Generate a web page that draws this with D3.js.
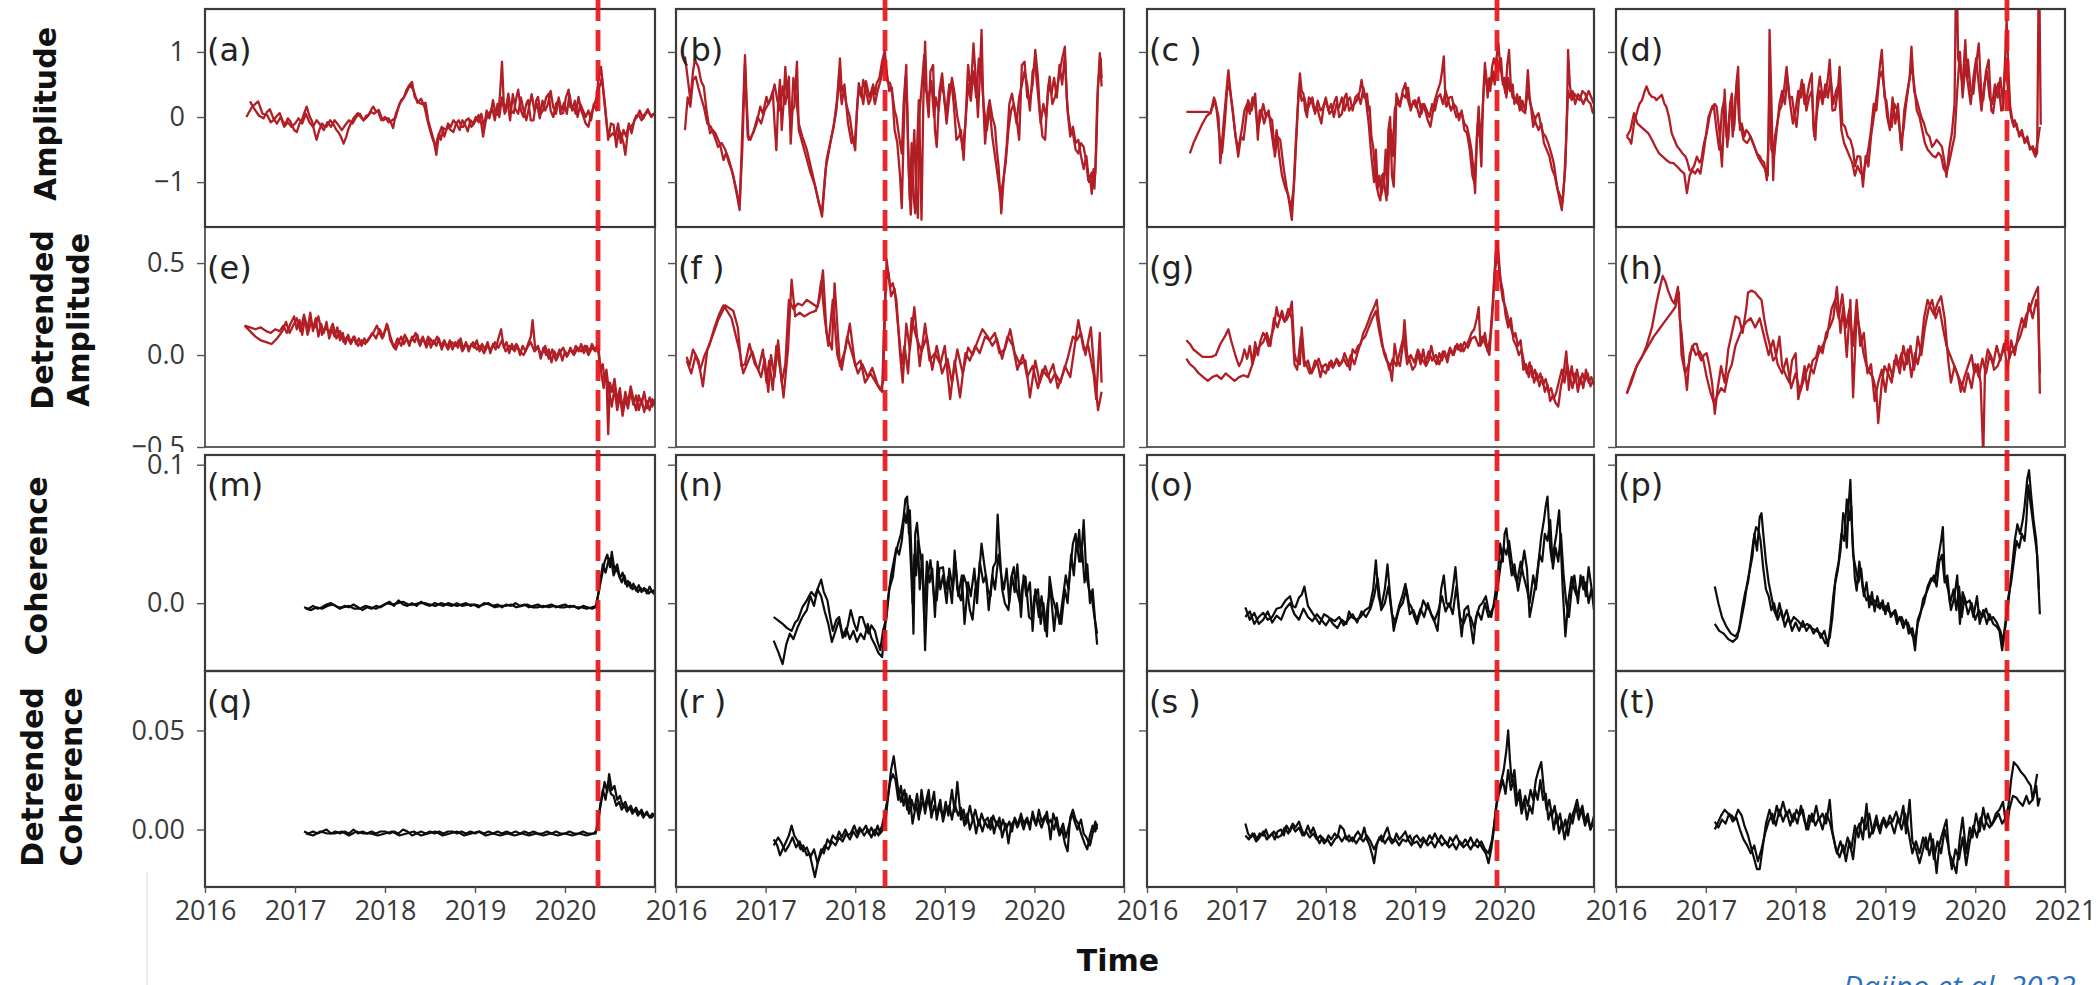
<!DOCTYPE html>
<html>
<head>
<meta charset="utf-8">
<script src="https://cdn.jsdelivr.net/npm/d3@7"></script>
<style>
  body { margin: 0; background: #fff; }
  svg { display: block; }
</style>
</head>
<body>
<svg id="chart" width="2100" height="985"></svg>
<script>
// time is in hundredths of a year since 2016-01-01
const years = ["2016", "2017", "2018", "2019", "2020", "2021"];
const rowTitles = [["Amplitude"], ["Detrended", "Amplitude"], ["Coherence"], ["Detrended", "Coherence"]];
const letters = [["(a)", "(b)", "(c )", "(d)"], ["(e)", "(f )", "(g)", "(h)"], ["(m)", "(n)", "(o)", "(p)"], ["(q)", "(r )", "(s )", "(t)"]];
const yTicks = [[1, 0, -1], [0.5, 0, -0.5], [0.1, 0], [0.05, 0]];
const yTickLabels = [["1", "0", "\u22121"], ["0.5", "0.0", "\u22120.5"], ["0.1", "0.0"], ["0.05", "0.00"]];
const eventTimes = [436.7, 233.3, 391.5, 435.4];

// (a) amplitude
const aA = [[46,0],[52,.15],[59,.24],[64,.05],[69,.03],[73,-.08],[76,-.05],[80,.02],[83,.06],[86,-.05],[89,-.12],[92,-.02],[95,-.07],[99,-.2],[102,-.23],[105,-.1],[107,-.07],[110,.05],[113,.16],[116,.02],[119,-.07],[122,-.25],[124,-.35],[127,-.2],[130,-.1],[133,-.15],[135,-.15],[139,-.05],[143,-.12],[146,-.2],[148,-.23],[151,-.3],[154,-.41],[157,-.3],[159,-.2],[162,-.1],[165,-.02],[168,.03],[170,.06],[173,0],[176,-.05],[179,.02],[182,.03],[185,.12],[187,.16],[190,.08],[193,.11],[196,0],[198,-.05],[201,-.02],[204,-.02],[207,-.1],[209,-.17],[212,.05],[215,.15],[218,.26],[221,.3],[224,.42],[226,.47],[230,.54],[233,.31],[236,.25],[239,.21],[242,.2],[245,.22],[248,-.05],[250,-.15],[254,-.35],[257,-.58],[260,-.25],[262,-.35],[265,-.17],[268,-.2],[270,-.15],[273,-.2],[276,-.23],[279,-.1],[282,-.05],[285,-.15],[287,-.15],[290,-.05],[293,-.02],[296,-.15],[298,-.12],[301,-.05],[304,.03],[307,-.1],[309,-.3],[312,-.05],[315,.05],[318,.1],[320,.26],[323,.05],[326,.03],[328,.4],[330,.85],[332,.2],[334,.08],[337,.36],[340,.1],[343,.06],[346,.3],[348,.42],[351,.1],[354,0],[357,.2],[359,.26],[362,-.05],[365,-.05],[368,.25],[370,.31],[373,.05],[376,.11],[379,.3],[382,.36],[384,.1],[387,0],[390,.2],[393,.26],[395,.05],[398,.06],[401,.3],[404,.42],[406,.15],[409,.16],[412,.05],[415,.31],[418,.1],[420,.03],[423,-.1],[426,-.15],[429,.05],[432,.16],[435,.3],[437,.57],[440,.77],[442,.5],[445,.11],[448,-.35],[451,-.1],[454,-.12],[457,-.46],[460,-.2],[462,-.25],[465,-.4],[467,-.58],[470,-.2],[473,-.15],[476,-.1],[479,.02],[482,.03],[485,-.05],[487,-.02],[490,.06],[493,.08],[496,0],[498,.04],[500,.03]];
const aB = [[50,.24],[55,.12],[60,.02],[65,-.02],[69,.08],[72,.12],[76,-.02],[80,-.1],[84,0],[88,-.15],[92,-.08],[96,-.15],[100,-.1],[104,-.02],[108,-.1],[112,.05],[116,-.08],[120,-.15],[124,-.05],[128,-.12],[132,-.2],[136,-.08],[140,-.15],[144,-.05],[148,-.12],[152,-.2],[156,-.12],[160,-.05],[164,-.1],[168,0],[172,.05],[176,-.05],[180,0],[184,.08],[188,.05],[192,.1],[196,-.05],[200,0],[204,-.08],[208,-.05],[212,0],[216,.2],[220,.28],[224,.38],[228,.5],[232,.4],[236,.22],[240,.28],[244,.15],[248,-.1],[252,-.3],[256,-.45],[259,-.3],[263,-.15],[266,-.3],[270,-.1],[273,-.15],[276,-.05],[280,-.12],[283,-.2],[286,-.05],[289,-.12],[292,-.22],[295,-.05],[298,-.1],[301,0],[304,-.08],[307,.05],[310,-.15],[313,.1],[316,-.02],[319,.15],[322,-.05],[325,.2],[327,0],[330,.3],[333,.05],[336,.25],[339,-.05],[342,.35],[345,.12],[348,.05],[351,.3],[354,.1],[357,-.05],[360,.15],[363,.35],[366,.1],[369,.2],[372,-.02],[375,.25],[378,.1],[381,.2],[384,.4],[387,.15],[390,.05],[393,.3],[396,.1],[399,.22],[402,.05],[405,.35],[408,.1],[411,.25],[414,0],[417,.2],[420,.1],[423,0],[426,.1],[429,-.05],[432,.2],[435,.1],[438,.45],[441,.6],[444,.2],[447,-.2],[450,-.3],[453,-.25],[456,-.3],[459,-.1],[462,-.4],[465,-.2],[468,-.3],[471,-.1],[474,-.25],[477,-.05],[480,0],[483,.1],[486,0],[489,.05],[492,.12],[495,.02],[500,.06]];

// (b)
const bA = [[10,.93],[13,.6],[16,.26],[19,.7],[21,.88],[25,.77],[28,.55],[31,.47],[34,.11],[38,-.25],[41,-.2],[44,-.25],[47,-.35],[49,-.41],[53,-.66],[56,-.55],[58,-.61],[61,-.75],[64,-.92],[68,-1.2],[71,-1.43],[74,-.2],[77,.95],[79,.2],[81,-.35],[84,-.3],[86,-.25],[90,-.1],[94,.16],[97,.05],[101,.31],[103,.2],[105,.26],[108,.4],[110,-.1],[112,-.51],[114,.2],[116,.57],[118,-.2],[120,.2],[122,.77],[124,.3],[126,.62],[128,-.41],[130,.1],[132,.16],[135,.85],[137,-.2],[140,-.35],[145,-.6],[150,-.85],[155,-1.05],[159,-1.3],[163,-1.53],[166,-1],[168,-.66],[172,-.4],[176,-.15],[180,.3],[183,.9],[185,.4],[187,.47],[190,.2],[194,0],[197,-.3],[200,-.51],[202,.1],[204,.52],[207,.3],[209,.57],[212,.4],[215,.2],[217,.26],[220,.5],[222,.35],[224,.52],[227,.6],[230,.85],[233,1.03],[236,.55],[239,.52],[242,.3],[244,.1],[246,0],[249,-.3],[252,-.56],[254,.2],[257,.8],[259,-.5],[261,-1.28],[263,-.4],[265,-1.2],[267,-1.48],[269,-.5],[271,.26],[273,-.9],[274,-1.58],[276,.2],[278,1.16],[280,.3],[282,0],[284,.7],[287,.8],[289,-.2],[291,-.46],[294,.4],[297,.67],[300,.2],[302,.11],[305,.5],[308,.47],[310,.2],[313,-.35],[316,-.3],[318,-.2],[321,-.66],[324,.2],[326,.8],[329,.4],[332,1.13],[335,.5],[337,0],[339,.6],[341,1.34],[343,.2],[345,-.41],[348,.1],[350,.26],[353,0],[356,-.15],[358,-.5],[360,-.76],[363,-1.48],[366,-.9],[369,-.46],[372,.2],[375,.36],[378,.1],[380,0],[383,-.35],[386,.8],[389,.85],[392,.3],[395,.26],[398,.5],[401,1.03],[404,.6],[406,.11],[409,-.3],[412,-.35],[415,.4],[417,.62],[420,.2],[423,.31],[426,.5],[428,.67],[431,.9],[434,1.08],[436,.3],[438,0],[441,-.25],[443,-.25],[446,-.5],[449,-.56],[452,-.4],[455,-.46],[458,-.7],[460,-.97],[462,-.9],[464,-1.18],[466,-.8],[468,-.87],[470,.2],[473,.98],[475,.47]];
const bB = [[10,-.2],[13,.3],[16,.16],[19,.57],[22,.62],[25,.45],[28,.3],[31,.16],[35,-.1],[39,-.15],[43,-.3],[47,-.46],[51,-.4],[55,-.5],[59,-.7],[63,-.85],[67,-1.1],[71,-1.35],[74,-.5],[77,.8],[80,-.3],[83,-.35],[87,-.2],[91,0],[95,-.1],[99,.1],[103,.2],[107,.31],[110,.5],[113,.26],[116,.1],[119,.47],[122,.2],[125,.5],[128,-.2],[131,.6],[134,.3],[137,-.1],[141,-.3],[146,-.5],[151,-.8],[156,-1.1],[160,-1.35],[163,-1.45],[167,-.8],[171,-.5],[175,-.2],[179,.1],[182,.6],[185,.2],[188,.5],[192,-.1],[196,-.4],[200,-.3],[203,.3],[206,.45],[209,.2],[212,.55],[216,.3],[219,.45],[222,.2],[225,.4],[229,.6],[232,.9],[235,.7],[238,.4],[241,.45],[244,-.2],[247,-.4],[250,-.9],[252,-1.4],[254,-.3],[256,.6],[258,.2],[260,-.9],[262,-1.5],[264,-.8],[266,-.2],[268,-1.2],[270,-1.55],[272,.1],[275,.6],[277,.95],[279,.4],[282,.3],[285,.55],[288,0],[290,.3],[293,.1],[296,.5],[299,.35],[302,-.1],[305,.3],[308,.6],[311,.35],[314,0],[317,-.2],[320,-.5],[323,-.1],[326,.5],[329,.25],[332,.7],[335,.3],[338,.9],[341,.6],[344,.1],[347,-.2],[350,.15],[353,-.3],[356,-.6],[359,-.9],[362,-1.2],[365,-1],[368,-.7],[371,-.2],[374,.1],[377,.2],[380,-.1],[383,.3],[386,.5],[389,.7],[392,.5],[395,.1],[398,.7],[401,.8],[404,.35],[407,-.1],[410,.2],[413,0],[416,.5],[419,.35],[422,.6],[425,.3],[428,.8],[431,.5],[434,.95],[437,.1],[440,-.3],[443,-.15],[446,-.4],[449,-.35],[452,-.6],[455,-.8],[458,-.6],[461,-1],[464,-.85],[467,-1.1],[469,-.5],[471,.5],[474,.9],[475,.6]];

// (c)
const cA = [[44,.08],[48,.08],[57,.08],[67,.08],[71,.06],[76,.26],[80,0],[82,-.71],[85,-.2],[87,.11],[91,.72],[94,.3],[97,-.05],[102,-.61],[105,-.3],[108,-.35],[111,0],[113,.26],[117,.1],[121,.36],[124,-.35],[126,.1],[128,.11],[131,-.1],[134,.06],[137,0],[140,-.05],[143,-.61],[146,-.3],[149,-.35],[153,-.8],[156,-1.07],[159,-1.3],[162,-1.58],[165,-.9],[167,-.35],[169,.2],[171,.67],[173,.4],[175,.36],[177,.1],[179,0],[181,.3],[184,.26],[187,.1],[190,.16],[193,0],[195,-.1],[198,.2],[201,.21],[204,.05],[207,.1],[210,.25],[212,.31],[215,0],[218,.05],[221,.3],[223,.36],[226,.1],[229,.16],[232,.2],[235,.26],[238,.4],[240,.57],[243,.3],[246,.36],[248,.1],[249,.16],[251,-.3],[253,-.46],[255,-.8],[257,-1.07],[259,-1.2],[261,-1.28],[263,-.9],[264,-.87],[266,-1.1],[268,-1.28],[270,-.2],[272,0],[274,-.9],[276,-1.07],[278,-.3],[279,.36],[281,.2],[283,.16],[286,.4],[289,.52],[291,.3],[294,.16],[297,.2],[300,.26],[303,.1],[305,0],[308,.2],[311,.11],[314,-.05],[317,-.15],[320,.1],[322,.26],[325,.4],[328,.52],[330,.7],[332,.93],[334,.2],[335,.16],[338,.3],[341,.31],[344,.1],[346,0],[349,.05],[352,.06],[355,-.1],[358,-.15],[361,-.35],[363,-.51],[365,-.8],[367,-1.17],[369,-.3],[371,.16],[373,-.5],[374,-.76],[376,.3],[378,.83],[380,.5],[382,.57],[384,.4],[386,.77],[388,.9],[390,.8],[393,1.13],[395,.8],[397,.62],[399,.5],[401,.36],[403,.8],[405,1.03],[407,.47],[409,.3],[412,.26],[415,.2],[417,.31],[420,.1],[423,.06],[426,.72],[428,.3],[430,.1],[432,-.15],[435,0],[438,.06],[441,-.15],[443,-.25],[446,-.3],[449,-.41],[452,-.55],[455,-.71],[458,-1],[460,-1.17],[462,-1.3],[464,-1.43],[466,-1.1],[468,-.76],[470,.2],[471,1.03],[473,.5],[475,.26],[478,.36],[481,.3],[484,.26],[487,.4],[490,.36],[493,.25],[496,.21],[499,.05]];
const cB = [[48,-.56],[52,-.4],[57,-.25],[62,-.1],[67,.02],[71,.06],[75,.3],[78,.1],[81,-.3],[84,-.55],[87,-.1],[90,.5],[93,.4],[96,.1],[99,-.3],[102,-.5],[106,-.2],[109,.1],[112,.2],[115,.05],[118,.3],[121,.2],[124,-.2],[127,0],[130,.2],[133,0],[136,.1],[139,-.2],[142,-.5],[145,-.2],[148,-.6],[151,-.9],[155,-1.1],[158,-1.2],[161,-1.4],[164,-1.1],[166,-.5],[168,0],[170,.5],[173,.25],[176,.3],[179,.1],[182,.2],[185,.3],[188,.05],[191,.25],[194,.1],[197,.15],[200,.3],[203,.1],[206,.2],[209,0],[212,.2],[215,.15],[218,.3],[221,.1],[224,.25],[227,.3],[230,.1],[233,.3],[236,.35],[239,.2],[242,.45],[245,.25],[248,-.1],[251,-.6],[254,-1],[256,-.5],[258,-1.1],[260,-.9],[262,-1.2],[265,-1],[267,-.5],[269,-1.2],[271,-.4],[273,-.2],[275,-.6],[277,.1],[280,.3],[283,.2],[286,.35],[289,.3],[292,.45],[295,.1],[298,.25],[301,.15],[304,.3],[307,.05],[310,.2],[313,.1],[316,0],[319,.2],[322,.1],[325,.3],[328,.35],[331,.2],[334,.4],[337,.25],[340,.1],[343,.2],[346,.15],[349,-.05],[352,.1],[355,-.2],[358,-.25],[361,-.5],[364,-.9],[366,-1],[368,-.6],[370,-.1],[372,-.3],[375,0],[377,.5],[379,.7],[381,.3],[383,.6],[385,.5],[387,.7],[389,.5],[391,.9],[393,.7],[396,.9],[398,.5],[400,.6],[402,.3],[404,.6],[406,.4],[409,.5],[411,.2],[414,.35],[417,.1],[420,.25],[423,.1],[426,.4],[429,.2],[432,.05],[435,-.1],[438,-.2],[441,-.1],[444,-.4],[447,-.5],[450,-.6],[453,-.8],[456,-.9],[459,-1.1],[462,-1.2],[465,-1.3],[467,-.9],[469,-.3],[471,.4],[473,.3],[476,.4],[479,.2],[482,.35],[485,.3],[488,.2],[491,.3],[494,.4],[497,.3],[500,.2]];

// (d)
const dA = [[12,-.3],[15,-.35],[17,-.41],[20,-.1],[23,.06],[26,.2],[29,.26],[32,.4],[34,.47],[37,.36],[40,.31],[43,.3],[45,.26],[48,.3],[51,.34],[54,.2],[56,.16],[59,0],[62,-.25],[65,-.35],[68,-.45],[71,-.5],[74,-.56],[77,-.6],[79,-.66],[82,-.82],[84,-.82],[87,-.75],[90,-.61],[93,-.7],[95,-.66],[98,-.4],[101,-.25],[104,0],[107,.16],[110,.2],[112,.16],[115,-.2],[118,-.76],[120,-.1],[121,.42],[123,-.3],[125,-.35],[127,.2],[129,.36],[131,-.2],[132,-.1],[134,.5],[136,.77],[138,-.2],[140,-.1],[143,-.3],[145,-.2],[148,-.25],[151,-.35],[154,-.45],[157,-.56],[160,-.6],[162,-.66],[165,-.7],[168,-.97],[170,-.3],[171,1.34],[173,.3],[175,-.97],[177,-.3],[179,-.15],[182,.1],[184,.16],[187,.4],[190,.77],[193,.3],[196,.31],[199,0],[201,-.15],[204,.3],[207,.57],[210,.2],[212,.26],[215,.5],[218,.67],[220,-.2],[222,-.35],[224,.3],[227,.62],[230,.3],[233,.31],[236,.6],[238,.88],[241,.1],[244,.11],[247,.4],[249,.77],[252,-.1],[255,-.15],[258,-.3],[261,-.35],[264,-.5],[266,-.76],[269,-.6],[272,-.61],[275,-1.07],[278,-.6],[281,-.76],[284,-.3],[287,0],[290,.3],[292,.52],[294,.8],[296,1.03],[299,.3],[301,.26],[304,-.1],[307,-.15],[310,.2],[313,.11],[316,-.2],[318,-.51],[321,.1],[324,.36],[327,.6],[329,1.08],[332,.4],[335,.26],[338,.1],[340,0],[343,-.1],[346,-.25],[349,-.3],[352,-.46],[355,-.4],[357,-.35],[360,-.4],[363,-.46],[366,-.7],[368,-.92],[371,-.5],[374,-.25],[377,.2],[379,2.6],[381,.9],[383,.77],[386,.5],[389,1.18],[391,.6],[392,.88],[395,.4],[398,.36],[401,.8],[404,1.13],[407,.3],[409,.26],[412,.7],[415,.88],[418,.1],[420,.06],[423,.4],[426,.52],[429,.1],[431,.11],[433,.8],[435,1.49],[437,.7],[439,.16],[442,-.1],[444,-.05],[447,-.2],[450,-.25],[453,-.3],[456,-.35],[459,-.4],[461,-.46],[464,-.5],[467,-.61],[469,-.55],[471,2.6],[473,-.12]];
const dB = [[12,-.3],[16,-.2],[20,.06],[24,-.1],[28,-.15],[32,-.2],[36,-.25],[40,-.35],[44,-.46],[48,-.56],[52,-.61],[56,-.66],[60,-.7],[64,-.71],[68,-.76],[72,-.82],[76,-.87],[79,-1.17],[82,-.9],[85,-.82],[88,-.87],[91,-.8],[94,-.87],[97,-.6],[100,-.3],[103,0],[106,.11],[109,.16],[112,-.2],[115,-.5],[118,.1],[121,.3],[124,-.46],[126,0],[128,.2],[130,-.3],[133,.3],[135,.5],[137,-.05],[139,-.15],[142,-.35],[146,-.4],[150,-.3],[154,-.45],[158,-.61],[162,-.71],[166,-.8],[169,-.9],[171,.6],[173,-.5],[176,-.6],[179,-.2],[182,.2],[185,.4],[188,.2],[191,.6],[194,.2],[197,-.1],[200,.1],[203,.4],[206,.3],[209,.5],[212,.1],[215,.3],[218,.4],[221,-.3],[224,.1],[227,.4],[230,.2],[233,.5],[236,.3],[239,.6],[242,.2],[245,.4],[248,.5],[251,-.2],[254,-.4],[257,-.5],[260,-.6],[263,-.7],[266,-.9],[269,-.75],[272,-.85],[275,-.9],[278,-.7],[281,-.5],[284,-.2],[287,.2],[290,.1],[293,.6],[296,.7],[299,.4],[302,0],[305,-.2],[308,.3],[311,-.1],[314,.2],[317,-.4],[320,-.2],[323,.2],[326,.5],[329,.8],[332,.5],[335,.1],[338,0],[341,-.2],[344,-.4],[347,-.5],[350,-.55],[353,-.6],[356,-.62],[359,-.55],[362,-.6],[365,-.8],[368,-.85],[371,-.7],[374,-.5],[377,-.3],[380,.4],[383,1.0],[386,.3],[389,.8],[392,.5],[395,.2],[398,.6],[401,.9],[404,.5],[407,.1],[410,.5],[413,.7],[416,.3],[419,.2],[422,.5],[425,.3],[428,.6],[431,.2],[434,.9],[437,.3],[440,0],[443,-.15],[446,-.1],[449,-.3],[452,-.2],[455,-.4],[458,-.3],[461,-.5],[464,-.45],[467,-.55],[470,-.35],[472,-.15]];

// (e) detrended amplitude
const eA = [[44,.16],[50,.15],[56,.14],[62,.15],[68,.13],[73,.12],[78,.14],[83,.13],[87,.16],[91,.12],[95,.17],[99,.21],[102,.14],[105,.19],[108,.11],[111,.2],[114,.14],[117,.23],[120,.13],[123,.2],[126,.1],[129,.17],[132,.12],[135,.18],[138,.09],[141,.14],[144,.1],[147,.15],[150,.08],[153,.12],[156,.06],[159,.11],[162,.07],[165,.1],[168,.06],[171,.09],[174,.05],[177,.09],[180,.07],[184,.1],[188,.13],[191,.16],[194,.12],[197,.09],[200,.13],[203,.16],[206,.08],[209,.05],[212,.03],[215,.07],[218,.1],[221,.06],[224,.09],[227,.05],[230,.1],[233,.07],[236,.11],[239,.05],[242,.09],[245,.06],[248,.1],[251,.04],[254,.08],[257,.05],[260,.09],[263,.03],[266,.07],[269,.04],[272,.08],[275,.03],[278,.07],[281,.04],[284,.09],[287,.03],[290,.07],[293,.02],[296,.06],[299,.04],[302,.08],[305,.02],[308,.06],[311,.03],[314,.07],[317,.01],[320,.06],[323,.03],[326,.09],[329,.14],[332,.04],[335,.07],[338,.01],[341,.06],[344,.02],[347,.05],[350,0],[353,.05],[356,.02],[359,.06],[362,.1],[364,.19],[367,.03],[370,.05],[373,-.02],[376,.04],[379,0],[382,.03],[385,-.04],[388,.02],[391,-.01],[394,.03],[397,-.03],[400,.02],[403,0],[406,.04],[409,.01],[412,.05],[415,.02],[418,.06],[421,.01],[424,.05],[427,.02],[430,.06],[433,.03],[436,.05],[438,-.02],[440,-.08],[442,-.05],[444,-.14],[446,-.1],[448,-.43],[450,-.15],[452,-.2],[455,-.13],[458,-.25],[461,-.18],[464,-.3],[467,-.2],[470,-.26],[473,-.17],[476,-.24],[479,-.3],[482,-.22],[485,-.27],[488,-.2],[491,-.29],[494,-.23],[497,-.28],[500,-.24]];
const eB = [[44,.16],[50,.13],[56,.1],[62,.08],[68,.07],[74,.06],[80,.09],[86,.13],[90,.18],[94,.12],[98,.16],[102,.2],[106,.13],[110,.22],[114,.11],[118,.18],[122,.15],[126,.21],[130,.11],[134,.15],[138,.12],[142,.17],[146,.09],[150,.13],[154,.07],[158,.1],[162,.06],[166,.1],[170,.05],[174,.08],[178,.06],[182,.09],[186,.12],[190,.09],[194,.14],[198,.1],[202,.17],[206,.1],[210,.04],[214,.09],[218,.05],[222,.11],[226,.07],[230,.08],[234,.12],[238,.06],[242,.1],[246,.04],[250,.09],[254,.06],[258,.1],[262,.05],[266,.08],[270,.03],[274,.07],[278,.05],[282,.08],[286,.02],[290,.06],[294,.04],[298,.07],[302,.03],[306,.05],[310,.01],[314,.05],[318,.03],[322,.07],[326,.04],[330,.08],[334,.02],[338,.05],[342,.03],[346,.06],[350,.02],[354,0],[358,.04],[362,.07],[366,.02],[370,.04],[374,0],[378,.05],[382,-.02],[386,.03],[390,-.03],[394,.01],[398,.04],[402,-.01],[406,.03],[410,0],[414,.04],[418,.02],[422,.05],[426,0],[430,.04],[434,.02],[437,.05],[439,-.05],[441,-.12],[443,-.18],[446,-.08],[449,-.2],[452,-.28],[455,-.18],[458,-.3],[461,-.22],[464,-.33],[467,-.24],[470,-.29],[473,-.2],[476,-.27],[479,-.22],[482,-.3],[485,-.24],[488,-.31],[491,-.25],[494,-.3],[497,-.24],[500,-.27]];

// (f)
const fA = [[12,-.01],[15,-.06],[19,.03],[25,-.03],[30,-.17],[35,.03],[42,.12],[47,.19],[52,.24],[55,.27],[58,.26],[64,.24],[69,.15],[73,-.06],[77,-.05],[82,.06],[88,-.05],[92,-.08],[97,.03],[101,-.15],[104,-.03],[108,-.19],[112,.05],[117,-.1],[120,-.23],[125,.03],[129,.41],[133,.21],[138,.23],[143,.21],[150,.23],[156,.24],[160,.3],[164,.46],[168,.12],[174,.03],[177,.39],[183,-.06],[189,.03],[194,.17],[200,-.06],[206,-.03],[211,-.15],[217,-.1],[222,-.14],[228,-.19],[231,-.15],[235,.52],[239,.37],[242,.39],[246,.3],[250,.01],[253,-.15],[257,.17],[261,.03],[266,.26],[272,-.06],[278,.17],[283,-.03],[289,.01],[295,-.05],[300,.05],[306,-.24],[311,-.03],[317,-.23],[323,.01],[328,-.03],[334,.05],[339,.01],[345,.1],[350,.08],[356,.12],[361,.01],[367,.03],[373,.14],[378,.01],[384,-.05],[390,-.03],[395,-.23],[401,-.03],[406,-.15],[412,-.06],[418,-.15],[423,-.1],[429,-.15],[434,-.06],[440,-.12],[445,.05],[449,.19],[455,.03],[460,.05],[466,-.1],[469,-.24],[473,.12],[475,-.15]];
const fB = [[12,-.03],[17,-.1],[22,0],[27,-.08],[32,0],[37,.05],[43,.15],[48,.22],[53,.27],[57,.24],[62,.2],[67,.1],[71,.02],[75,-.1],[80,-.04],[85,.02],[90,-.06],[95,-.12],[99,-.02],[103,-.2],[106,0],[110,-.12],[114,.08],[118,-.15],[122,-.05],[126,.3],[131,.25],[136,.28],[141,.27],[146,.3],[152,.28],[158,.26],[162,.4],[166,.2],[170,.05],[175,.3],[180,0],[185,-.08],[191,.1],[197,0],[203,-.1],[208,-.05],[214,-.12],[219,-.07],[225,-.16],[230,-.2],[234,.4],[237,.45],[240,.32],[244,.36],[248,.15],[252,-.05],[255,.05],[259,-.1],[263,.2],[268,.1],[274,.02],[280,.1],[286,-.08],[291,.05],[297,-.1],[303,-.02],[308,-.15],[314,.03],[320,-.1],[326,.04],[331,0],[337,.08],[342,.14],[348,.1],[353,.05],[358,.09],[364,-.02],[370,.1],[376,.05],[381,-.08],[387,0],[392,-.12],[398,-.06],[404,-.18],[409,-.08],[415,-.12],[421,-.05],[426,-.18],[432,-.1],[437,-.02],[443,.1],[447,.08],[452,.12],[457,0],[463,.15],[467,-.1],[471,-.3],[475,-.2]];

// (g)
const gA = [[44,.08],[48,.06],[52,.03],[57,.01],[62,-.01],[67,-.01],[72,-.01],[77,0],[82,.06],[87,.1],[91,.14],[94,.08],[97,.03],[100,-.02],[103,-.06],[106,-.03],[109,.03],[112,-.02],[115,.05],[118,-.05],[121,.07],[124,0],[127,.08],[130,.12],[133,.1],[136,.05],[139,.1],[142,.15],[145,.26],[147,.21],[149,.21],[151,.24],[153,.2],[156,.19],[159,.22],[162,.29],[165,.01],[167,-.03],[171,-.05],[173,.15],[176,-.03],[179,-.06],[182,-.1],[185,-.08],[188,-.03],[191,-.05],[194,-.12],[197,-.06],[200,-.05],[203,-.08],[206,-.03],[209,-.06],[212,-.03],[215,-.06],[218,-.04],[221,.01],[224,-.03],[227,-.08],[230,.03],[233,.01],[236,.05],[239,.06],[242,.12],[245,.15],[248,.19],[251,.23],[254,.26],[257,.3],[259,.2],[262,.1],[265,.01],[268,-.03],[271,-.05],[274,-.14],[277,.06],[280,-.03],[283,-.06],[286,.05],[288,.19],[291,0],[294,-.03],[297,-.08],[300,-.06],[303,.01],[306,-.05],[309,.03],[312,-.06],[315,-.03],[318,.05],[321,-.02],[324,-.05],[327,.01],[330,-.03],[333,.02],[336,-.04],[339,.03],[342,0],[345,.05],[348,.03],[351,.06],[354,.02],[357,.05],[360,.08],[363,.12],[366,.14],[369,.2],[371,.26],[373,.05],[376,.08],[378,.12],[381,.02],[384,.1],[387,.3],[390,.55],[392,.62],[394,.5],[396,.37],[398,.3],[401,.26],[404,.2],[407,.15],[410,.1],[412,.12],[415,.05],[418,.08],[421,-.08],[424,-.05],[427,-.12],[430,-.06],[433,-.15],[436,-.1],[439,-.17],[442,-.12],[445,-.2],[448,-.16],[451,-.25],[454,-.22],[457,-.26],[460,-.28],[463,-.17],[466,-.1],[469,.02],[472,-.19],[475,-.06],[478,-.15],[481,-.08],[484,-.16],[487,-.1],[490,-.14],[493,-.1],[496,-.17],[499,-.14]];
const gB = [[44,-.02],[48,-.05],[53,-.07],[58,-.1],[63,-.12],[68,-.14],[73,-.12],[78,-.11],[83,-.13],[88,-.1],[93,-.12],[98,-.14],[103,-.12],[108,-.11],[113,-.12],[118,-.05],[122,.02],[126,.05],[130,.07],[134,.12],[138,.05],[142,.2],[146,.15],[150,.22],[154,.18],[158,.25],[162,.2],[165,-.05],[168,-.08],[172,.1],[176,-.06],[180,-.03],[184,-.1],[188,-.06],[192,-.02],[196,-.08],[200,-.1],[204,-.04],[208,-.07],[212,-.02],[216,-.05],[220,-.02],[224,-.06],[228,0],[232,-.05],[236,.02],[240,.08],[244,.1],[248,.15],[252,.2],[256,.24],[259,.15],[263,.05],[267,0],[271,-.08],[275,-.02],[279,-.06],[283,.02],[287,.1],[291,-.05],[295,0],[299,-.04],[303,.03],[307,-.02],[311,-.05],[315,.02],[319,-.03],[323,0],[327,-.05],[331,.02],[335,-.02],[339,.04],[343,0],[347,.06],[351,.02],[355,.07],[359,.04],[363,.09],[367,.1],[371,.05],[375,.1],[379,.05],[383,0],[386,.2],[389,.45],[392,.55],[395,.42],[398,.35],[401,.22],[404,.15],[407,.2],[410,.08],[413,.05],[416,0],[419,.03],[422,-.05],[425,-.1],[428,-.04],[431,-.12],[434,-.08],[437,-.14],[440,-.1],[443,-.16],[446,-.13],[449,-.2],[452,-.18],[455,-.24],[458,-.2],[461,-.14],[464,-.08],[467,-.15],[470,-.05],[473,-.12],[476,-.18],[479,-.1],[482,-.2],[485,-.12],[488,-.18],[491,-.08],[494,-.15],[497,-.12],[500,-.16]];

// (h)
const hA = [[12,-.21],[17,-.15],[23,-.06],[29,-.01],[34,.05],[40,.15],[45,.28],[49,.37],[52,.43],[55,.4],[58,.35],[62,.3],[65,.28],[69,.37],[71,.2],[73,.12],[76,-.05],[79,-.19],[82,0],[84,.03],[87,.06],[90,.06],[93,-.01],[95,-.03],[98,0],[101,.01],[104,-.06],[107,-.15],[110,-.32],[113,-.19],[117,-.06],[121,-.15],[125,.03],[129,.12],[133,.21],[137,.2],[141,.12],[145,.25],[147,.34],[151,.35],[155,.34],[158,.32],[162,.3],[165,.2],[168,.12],[171,.06],[175,-.03],[178,-.01],[182,.1],[185,-.06],[190,-.12],[193,-.15],[196,-.03],[200,.01],[203,-.24],[207,-.15],[210,-.06],[213,-.19],[216,-.1],[219,-.03],[223,-.01],[226,.05],[230,.01],[234,.12],[238,.15],[242,.2],[246,.37],[250,.12],[253,.26],[257,-.01],[261,.3],[264,-.23],[268,.23],[272,.12],[276,0],[279,-.06],[283,-.1],[286,-.12],[290,-.2],[292,-.37],[296,-.15],[299,-.06],[303,-.1],[307,-.15],[310,-.03],[314,-.06],[318,.01],[321,-.08],[325,.03],[329,-.12],[333,.01],[336,-.05],[340,.05],[343,.2],[347,.3],[351,.25],[354,.22],[358,.28],[362,.32],[366,.2],[370,-.03],[373,-.15],[377,-.06],[381,-.12],[384,-.2],[388,-.12],[392,-.06],[396,0],[399,-.1],[403,-.05],[406,-.15],[409,-.55],[411,-.06],[414,.03],[418,-.01],[421,-.08],[425,-.06],[429,0],[432,.03],[435,.1],[438,-.02],[440,.01],[443,.03],[446,.06],[450,.1],[453,.15],[457,.22],[461,.25],[464,.3],[468,.35],[470,.37],[472,-.21]];
const hB = [[12,-.21],[18,-.12],[24,-.05],[30,0],[36,.05],[42,.1],[48,.14],[54,.18],[60,.22],[66,.26],[70,.34],[73,0],[77,-.1],[81,-.05],[85,.05],[89,0],[93,.02],[97,-.02],[101,-.12],[105,-.2],[109,-.26],[113,-.22],[117,-.18],[121,-.2],[125,-.1],[129,-.05],[133,.05],[137,.1],[141,.15],[145,.18],[150,.2],[155,.15],[160,.2],[165,.1],[170,0],[175,.08],[180,-.05],[185,-.1],[190,-.02],[195,-.18],[200,-.1],[205,-.2],[210,-.12],[215,-.05],[220,-.1],[225,0],[230,.05],[235,.1],[240,.25],[244,.3],[248,.2],[252,.33],[256,.15],[260,.25],[264,.05],[268,.3],[272,.05],[276,.12],[280,-.1],[284,-.05],[288,-.25],[292,-.15],[296,-.08],[300,-.2],[304,-.05],[308,-.12],[312,0],[316,-.1],[320,.05],[324,-.05],[328,.05],[332,-.08],[336,.1],[340,0],[344,.15],[348,.25],[352,.3],[356,.2],[360,.26],[364,.15],[368,.05],[372,0],[376,-.05],[380,-.1],[384,-.15],[388,-.2],[392,-.1],[396,-.18],[400,-.05],[404,-.12],[408,-.02],[412,-.1],[416,0],[420,-.05],[424,.05],[428,-.03],[432,.06],[436,-.08],[440,.08],[444,0],[448,.12],[452,.2],[456,.15],[460,.28],[464,.2],[468,.3],[470,.25],[472,-.1]];

// (m) coherence
const mA = [[110,-.003],[115,-.004],[120,-.002],[125,-.004],[130,-.003],[135,-.001],[140,0],[145,-.002],[150,-.004],[155,-.002],[160,-.003],[165,-.001],[170,-.003],[175,-.005],[180,-.003],[185,-.004],[190,-.002],[195,-.003],[200,-.001],[205,.001],[210,-.002],[215,.002],[220,-.001],[225,-.002],[230,0],[235,-.002],[240,.001],[245,-.001],[250,-.002],[255,0],[260,-.001],[265,-.002],[270,0],[275,-.001],[280,-.002],[285,-.001],[290,0],[295,-.002],[300,-.001],[305,-.002],[310,-.001],[315,0],[320,-.002],[325,-.001],[330,-.003],[335,-.001],[340,-.002],[345,0],[350,-.002],[355,-.001],[360,-.003],[365,-.002],[370,-.001],[375,-.003],[380,-.002],[385,-.001],[390,-.003],[395,-.002],[400,-.001],[405,-.003],[410,-.002],[415,-.004],[420,-.002],[425,-.003],[430,-.004],[434,-.003],[438,.01],[441,.02],[444,.03],[447,.035],[450,.026],[452,.037],[455,.024],[458,.028],[461,.018],[464,.022],[467,.014],[470,.016],[473,.011],[476,.014],[479,.009],[482,.013],[485,.008],[488,.011],[491,.007],[494,.012],[497,.008],[500,.01]];
const mB = [[112,-.004],[118,-.005],[124,-.003],[130,-.004],[136,-.002],[142,-.001],[148,-.003],[154,-.003],[160,-.002],[166,-.004],[172,-.004],[178,-.002],[184,-.003],[190,-.004],[196,-.002],[202,0],[208,-.001],[214,0],[220,.001],[226,-.001],[232,-.001],[238,0],[244,0],[250,-.001],[256,-.002],[262,0],[268,-.001],[274,-.002],[280,0],[286,-.002],[292,-.001],[298,-.001],[304,-.003],[310,0],[316,-.001],[322,-.003],[328,-.002],[334,-.002],[340,-.001],[346,-.003],[352,-.002],[358,-.001],[364,-.003],[370,-.003],[376,-.002],[382,-.003],[388,-.002],[394,-.003],[400,-.003],[406,-.002],[412,-.003],[418,-.003],[424,-.004],[430,-.003],[435,-.002],[439,.015],[442,.028],[445,.022],[448,.03],[451,.033],[454,.02],[457,.025],[460,.02],[463,.015],[466,.02],[469,.012],[472,.015],[475,.01],[478,.012],[481,.008],[484,.011],[487,.009],[490,.01],[493,.007],[496,.009],[500,.006]];

// (n)
const nA = [[109,-.01],[115,-.013],[119,-.015],[124,-.018],[129,-.02],[133,-.014],[136,-.012],[141,-.003],[146,.002],[151,.008],[155,.005],[159,.012],[162,.017],[165,.008],[169,.002],[172,-.01],[175,-.02],[179,-.012],[182,-.01],[185,-.02],[189,-.024],[192,-.015],[195,-.005],[199,-.015],[202,-.02],[205,-.01],[208,-.01],[212,-.018],[215,-.022],[218,-.016],[222,-.02],[225,-.028],[228,-.034],[231,-.02],[235,-.01],[238,.01],[242,.019],[245,.035],[248,.043],[251,.05],[254,.062],[256,.075],[258,.077],[260,.05],[261,.067],[263,.03],[265,-.022],[267,.05],[269,.058],[271,.043],[274,.03],[276,.01],[278,-.034],[281,.02],[284,.031],[288,.005],[291,.002],[294,.025],[298,.026],[301,.01],[304,.019],[308,0],[311,.038],[314,.01],[318,.002],[321,.02],[324,.014],[328,-.005],[331,-.012],[334,.01],[338,.019],[341,.043],[344,.028],[348,.01],[351,.005],[354,.026],[357,.03],[359,.064],[361,.04],[364,.01],[367,0],[371,-.005],[374,.018],[377,.026],[380,.01],[384,0],[387,.014],[390,.019],[394,-.01],[397,-.012],[400,.005],[404,.01],[407,-.015],[410,0],[414,-.024],[417,.019],[420,.005],[424,-.005],[427,-.01],[430,-.015],[434,.01],[437,0],[440,.025],[443,.043],[446,.05],[448,.038],[450,.053],[452,.03],[455,.06],[458,.02],[461,.01],[464,.005],[467,-.01],[470,-.022]];
const nB = [[109,-.027],[114,-.035],[119,-.044],[123,-.03],[127,-.022],[131,-.026],[136,-.017],[141,-.01],[146,-.005],[150,.005],[154,-.002],[158,.01],[162,.005],[166,-.006],[170,-.015],[174,-.028],[178,-.02],[182,-.012],[186,-.025],[190,-.018],[194,-.026],[198,-.02],[202,-.028],[206,-.022],[210,-.026],[214,-.015],[218,-.025],[222,-.03],[226,-.036],[230,-.039],[233,-.02],[236,0],[240,.02],[243,.03],[246,.04],[249,.035],[252,.045],[255,.065],[257,.058],[259,.07],[262,.03],[264,0],[266,.035],[268,.02],[270,.045],[272,.01],[275,.035],[277,-.01],[280,.03],[283,.015],[286,.025],[289,-.01],[292,.03],[295,.01],[298,.02],[302,0],[305,.025],[309,.01],[312,.03],[315,.005],[319,.02],[322,-.015],[326,.015],[329,.005],[333,.025],[336,0],[339,.03],[343,.015],[346,.02],[349,-.005],[353,.02],[356,.01],[360,.035],[363,.02],[366,.01],[369,.025],[372,0],[375,.02],[378,.008],[381,.028],[385,-.01],[388,.02],[391,.005],[395,.015],[398,-.02],[401,.01],[405,-.01],[408,.005],[412,-.02],[415,0],[418,.01],[422,-.02],[425,0],[428,-.015],[432,.005],[435,.02],[438,.01],[441,.035],[444,.02],[447,.045],[450,.03],[453,.04],[456,.015],[459,.028],[462,0],[465,.01],[468,-.015],[470,-.03]];

// (o)
const oA = [[110,-.01],[115,-.006],[120,-.015],[125,-.01],[130,-.007],[135,-.012],[140,-.01],[145,-.004],[150,-.003],[155,.002],[160,.005],[163,-.002],[166,-.003],[170,.004],[173,.006],[176,.012],[180,-.002],[183,-.005],[188,-.01],[193,-.015],[198,-.008],[203,-.01],[208,-.015],[213,-.018],[218,-.012],[223,-.015],[226,-.006],[229,-.01],[234,-.012],[239,-.01],[244,-.005],[249,-.003],[253,.01],[256,.031],[259,.005],[262,-.003],[266,.01],[269,.028],[272,.005],[276,-.02],[279,-.01],[282,-.002],[286,.006],[289,.014],[293,0],[296,-.003],[299,-.01],[302,-.015],[306,-.006],[309,.002],[312,-.002],[316,-.005],[319,-.01],[322,-.014],[325,-.02],[329,.01],[332,.02],[335,0],[339,-.003],[342,.01],[345,.026],[349,-.005],[352,-.024],[355,-.005],[359,-.002],[362,-.015],[365,-.029],[368,-.01],[372,-.002],[375,0],[379,.005],[382,-.005],[385,-.01],[388,0],[390,.009],[393,.025],[395,.043],[398,.03],[400,.05],[402,.054],[405,.035],[408,.02],[411,.028],[415,.009],[418,.02],[422,.038],[425,.025],[428,-.01],[431,0],[435,.015],[438,.03],[441,.048],[444,.06],[446,.07],[448,.077],[451,.04],[453,.03],[455,.038],[458,.05],[461,.067],[463,.04],[465,.01],[468,-.024],[471,0],[475,.019],[478,.01],[481,.005],[484,.012],[488,.019],[491,.005],[494,.026],[497,.012],[500,-.005]];
const oB = [[110,-.003],[115,-.012],[120,-.007],[125,-.015],[130,-.012],[135,-.006],[140,-.014],[145,-.009],[150,-.012],[155,-.004],[160,0],[165,-.008],[170,-.012],[175,-.004],[180,-.01],[185,-.013],[190,-.008],[195,-.012],[200,-.016],[205,-.011],[210,-.013],[215,-.01],[220,-.016],[225,-.012],[230,-.008],[235,-.014],[240,-.006],[245,-.01],[250,-.004],[254,.005],[258,.018],[262,-.005],[266,0],[270,.012],[274,-.008],[278,-.014],[282,-.004],[286,0],[290,.01],[294,-.008],[298,-.005],[302,-.012],[306,-.004],[310,-.01],[314,0],[318,-.008],[322,-.012],[326,-.005],[330,.005],[334,-.006],[338,0],[342,-.008],[346,.012],[350,-.01],[354,-.015],[358,-.008],[362,-.01],[366,-.018],[370,-.006],[374,-.012],[378,0],[382,-.01],[386,-.005],[390,0],[393,.015],[396,.03],[399,.04],[402,.035],[405,.045],[408,.03],[411,.02],[414,.015],[418,.03],[421,.02],[425,.01],[428,0],[432,.02],[435,.01],[439,.035],[442,.03],[445,.05],[448,.045],[451,.06],[454,.025],[457,.04],[460,.03],[463,.05],[466,.02],[469,0],[472,-.01],[475,.01],[478,.02],[482,0],[485,.02],[488,.01],[491,.015],[494,0],[497,.01],[500,0]];

// (p)
const pA = [[110,.012],[114,0],[118,-.01],[123,-.017],[128,-.022],[133,-.024],[137,-.02],[140,-.01],[143,0],[146,.014],[149,.024],[152,.034],[154,.05],[157,.038],[160,.062],[162,.065],[164,.05],[167,.03],[170,.015],[173,.005],[176,-.005],[179,-.01],[182,0],[186,-.012],[190,-.005],[194,-.015],[198,-.01],[203,-.013],[208,-.017],[213,-.015],[218,-.018],[223,-.02],[228,-.022],[233,-.029],[238,-.025],[241,-.01],[244,.014],[247,.024],[250,.038],[253,.065],[255,.06],[257,.04],[259,.07],[261,.089],[263,.05],[264,.04],[266,.018],[268,.009],[271,.03],[273,.02],[275,.01],[279,.002],[282,.005],[285,-.001],[288,.002],[292,-.003],[295,0],[298,-.005],[301,-.002],[304,-.006],[307,-.008],[311,-.005],[314,-.012],[318,-.01],[321,-.015],[325,-.014],[328,-.02],[331,-.025],[333,-.034],[336,-.012],[340,-.005],[343,0],[347,.012],[351,.018],[355,.015],[358,.029],[362,.045],[364,.055],[366,.02],[370,.009],[373,-.005],[377,.005],[380,.02],[383,-.015],[386,.008],[390,0],[394,.002],[398,-.01],[402,.005],[405,-.015],[409,-.005],[413,-.015],[416,-.008],[420,-.015],[424,-.017],[427,-.02],[430,-.034],[433,-.02],[436,-.005],[440,.019],[444,.045],[447,.057],[450,.05],[453,.06],[455,.07],[458,.09],[460,.096],[462,.08],[465,.06],[468,.045],[470,.02],[472,-.008]];
const pB = [[110,-.015],[115,-.02],[120,-.022],[125,-.026],[130,-.028],[135,-.025],[138,-.015],[141,-.002],[144,.008],[147,.015],[150,.03],[153,.045],[156,.055],[159,.052],[161,.045],[164,.025],[167,.01],[170,.005],[173,-.005],[176,0],[180,-.012],[184,-.005],[188,-.017],[192,-.01],[196,-.02],[200,-.014],[204,-.02],[208,-.013],[212,-.02],[216,-.016],[220,-.022],[224,-.018],[228,-.025],[232,-.02],[236,-.031],[239,-.015],[242,.005],[245,.02],[248,.03],[251,.05],[254,.045],[257,.075],[260,.06],[262,.07],[264,.035],[267,.025],[270,.015],[273,.025],[276,.005],[279,.015],[282,-.003],[285,.008],[288,-.006],[291,.005],[294,-.004],[297,.002],[300,-.008],[303,0],[306,-.01],[310,-.006],[313,-.015],[316,-.01],[320,-.018],[323,-.012],[326,-.022],[330,-.018],[333,-.028],[336,-.015],[339,-.008],[342,.003],[346,.008],[350,.015],[354,.02],[357,.012],[360,.03],[363,.035],[366,.015],[369,.02],[372,0],[376,.01],[379,-.005],[382,.012],[385,-.01],[388,.004],[392,-.008],[396,0],[400,-.012],[404,-.005],[408,-.01],[412,-.004],[416,-.012],[420,-.01],[424,-.014],[428,-.02],[431,-.028],[434,-.012],[437,.005],[440,.015],[443,.03],[446,.045],[449,.04],[452,.05],[455,.045],[457,.06],[459,.085],[461,.075],[463,.065],[466,.05],[469,.035],[471,.01]];

// (q) detrended coherence
const qA = [[110,-.001],[115,-.002],[120,-.001],[125,-.002],[130,-.001],[135,0],[140,-.002],[145,-.001],[150,-.002],[155,-.001],[160,-.002],[165,0],[170,-.002],[175,-.001],[180,-.002],[185,-.001],[190,-.002],[195,-.001],[200,-.001],[205,-.002],[210,-.001],[215,-.002],[220,0],[225,-.001],[230,-.003],[235,-.002],[240,-.001],[245,-.002],[250,-.001],[255,-.002],[260,-.001],[265,-.002],[270,-.001],[275,-.001],[280,-.002],[285,-.001],[290,-.002],[295,-.001],[300,-.002],[305,-.001],[310,-.002],[315,-.001],[320,-.002],[325,-.001],[330,-.002],[335,-.001],[340,-.002],[345,-.001],[350,-.002],[355,-.001],[360,-.002],[365,-.001],[370,-.002],[375,-.002],[380,-.001],[385,-.002],[390,-.001],[395,-.002],[400,-.002],[405,-.001],[410,-.002],[415,-.002],[420,-.001],[425,-.002],[430,-.002],[434,-.002],[438,.008],[441,.016],[444,.024],[447,.019],[449,.028],[452,.02],[455,.022],[458,.015],[461,.017],[464,.012],[467,.014],[470,.01],[473,.012],[476,.009],[479,.011],[482,.008],[485,.01],[488,.007],[491,.009],[494,.006],[497,.008],[500,.007]];
const qB = [[112,-.002],[120,-.003],[128,-.001],[136,-.002],[144,-.002],[152,-.001],[160,-.003],[168,-.001],[176,-.002],[184,-.002],[192,-.003],[200,-.002],[208,-.001],[216,-.003],[224,-.002],[232,-.001],[240,-.003],[248,-.002],[256,-.001],[264,-.003],[272,-.002],[280,-.001],[288,-.003],[296,-.002],[304,-.001],[312,-.003],[320,-.002],[328,-.003],[336,-.002],[344,-.003],[352,-.002],[360,-.003],[368,-.002],[376,-.003],[384,-.002],[392,-.003],[400,-.002],[408,-.003],[416,-.002],[424,-.003],[432,-.002],[436,0],[439,.012],[442,.02],[445,.015],[448,.024],[451,.018],[454,.017],[457,.012],[460,.014],[463,.01],[466,.012],[469,.009],[472,.011],[475,.008],[478,.01],[481,.007],[484,.009],[487,.006],[490,.008],[493,.007],[496,.006],[500,.008]];

// (r)
const rA = [[109,-.005],[113,-.008],[116,-.013],[119,-.01],[123,-.006],[126,-.003],[129,.002],[132,-.003],[136,-.006],[139,-.01],[142,-.008],[146,-.013],[149,-.012],[152,-.018],[155,-.024],[159,-.015],[162,-.01],[165,-.012],[169,-.005],[172,-.007],[175,-.003],[179,-.005],[182,-.001],[185,-.004],[189,0],[192,-.003],[195,-.002],[199,.002],[202,-.002],[205,.001],[208,-.001],[212,.002],[215,-.002],[218,.001],[222,-.003],[225,.002],[228,-.002],[231,0],[234,.005],[237,.018],[240,.03],[243,.037],[245,.03],[248,.02],[251,.014],[255,.02],[258,.01],[261,.017],[264,.003],[268,.013],[271,.005],[274,.02],[278,.008],[281,.016],[284,.01],[288,.019],[291,.005],[294,.012],[298,.006],[301,.014],[304,.007],[308,.02],[311,.009],[314,.024],[318,.005],[321,.01],[324,.003],[328,.012],[331,.005],[334,.01],[338,.002],[341,.008],[344,.004],[348,.006],[351,0],[354,.007],[358,.002],[361,.006],[364,-.004],[368,.003],[371,-.007],[374,.002],[378,.005],[381,.001],[384,.006],[388,0],[391,.005],[394,.002],[398,.007],[401,.003],[404,.006],[408,.001],[411,.005],[414,.009],[418,-.005],[421,.008],[424,.004],[428,-.003],[431,0],[434,-.007],[437,-.011],[440,.006],[443,.01],[446,.005],[449,.003],[452,-.002],[456,-.007],[459,-.01],[462,-.003],[465,.002],[468,-.001],[470,.003]];
const rB = [[109,-.008],[114,-.004],[118,-.007],[122,-.011],[126,-.008],[130,-.004],[134,-.009],[138,-.006],[142,-.011],[146,-.009],[150,-.014],[154,-.01],[158,-.017],[162,-.012],[166,-.008],[170,-.01],[174,-.006],[178,-.008],[182,-.004],[186,-.006],[190,-.002],[194,-.005],[198,-.001],[202,-.004],[206,0],[210,-.003],[214,0],[218,-.004],[222,0],[226,-.003],[230,.002],[233,.008],[236,.015],[239,.024],[242,.028],[245,.025],[248,.015],[251,.022],[254,.012],[257,.018],[260,.008],[263,.015],[266,.01],[269,.018],[272,.008],[275,.014],[278,.012],[282,.02],[285,.006],[288,.012],[291,.008],[295,.015],[298,.004],[301,.01],[305,.012],[308,.005],[311,.013],[315,.007],[318,.011],[322,.002],[325,.008],[328,0],[332,.006],[335,-.002],[338,.005],[342,-.001],[345,.004],[348,.001],[352,.006],[355,-.002],[358,.004],[362,0],[365,.005],[368,0],[372,.004],[375,-.001],[378,.006],[382,.002],[385,.008],[388,.003],[392,.006],[395,0],[398,.009],[402,.002],[405,.01],[408,.004],[412,.007],[415,.003],[418,.005],[422,0],[425,.006],[428,-.002],[432,.003],[435,-.004],[438,.001],[442,.008],[445,.004],[448,0],[452,.005],[455,-.002],[458,-.004],[462,-.008],[465,-.002],[468,.004],[470,0]];

// (s)
const sA = [[110,.003],[113,-.002],[116,-.004],[120,-.002],[123,-.005],[126,-.002],[130,-.003],[133,0],[136,-.004],[140,-.002],[143,-.005],[146,-.001],[150,0],[153,-.003],[156,.002],[160,-.001],[163,.003],[166,.001],[170,.004],[173,0],[176,-.003],[180,.002],[183,-.002],[186,.001],[190,-.004],[193,-.007],[196,-.004],[200,-.006],[203,-.003],[206,-.005],[210,-.002],[213,-.004],[216,.002],[220,0],[223,-.005],[226,-.003],[230,-.006],[233,-.003],[236,-.001],[240,-.004],[243,.001],[246,-.005],[249,-.008],[252,-.013],[254,-.017],[257,-.008],[260,-.004],[263,-.006],[266,-.002],[269,.001],[272,-.004],[276,-.006],[279,-.002],[282,-.005],[286,-.003],[289,-.001],[292,-.005],[296,-.008],[299,-.004],[302,-.003],[306,-.006],[309,-.004],[312,-.007],[316,-.003],[319,-.005],[322,-.002],[326,-.006],[329,-.003],[332,-.005],[336,-.008],[339,-.004],[342,-.006],[346,-.003],[349,-.006],[352,-.008],[356,-.005],[359,-.007],[362,-.004],[366,-.008],[369,-.005],[372,-.007],[376,-.01],[379,-.012],[382,-.017],[385,-.01],[388,0],[390,.01],[393,.02],[396,.024],[399,.03],[402,.04],[404,.05],[406,.035],[408,.024],[411,.03],[414,.015],[417,.02],[420,.01],[423,.017],[426,.012],[429,.02],[432,.015],[435,.025],[438,.03],[441,.034],[444,.02],[447,.01],[450,.015],[453,.007],[456,.012],[459,.003],[462,.008],[465,0],[468,.005],[471,-.003],[474,.005],[478,.01],[481,.015],[484,.008],[487,.012],[490,.004],[493,.008],[496,0],[500,.007]];
const sB = [[110,-.003],[114,-.005],[118,-.002],[122,-.006],[126,-.004],[130,-.001],[134,-.005],[138,-.003],[142,-.001],[146,-.004],[150,-.003],[154,.001],[158,-.002],[162,.002],[166,-.001],[170,.001],[174,-.003],[178,-.001],[182,-.004],[186,-.002],[190,-.005],[194,-.003],[198,-.007],[202,-.005],[206,-.008],[210,-.005],[214,-.003],[218,-.006],[222,-.003],[226,-.006],[230,-.004],[234,-.007],[238,-.004],[242,-.006],[246,-.003],[250,-.006],[254,-.01],[258,-.006],[262,-.003],[266,-.007],[270,-.004],[274,-.007],[278,-.005],[282,-.008],[286,-.005],[290,-.006],[294,-.003],[298,-.007],[302,-.006],[306,-.009],[310,-.005],[314,-.008],[318,-.006],[322,-.009],[326,-.005],[330,-.008],[334,-.006],[338,-.009],[342,-.007],[346,-.01],[350,-.006],[354,-.009],[358,-.007],[362,-.01],[366,-.007],[370,-.009],[374,-.006],[378,-.01],[382,-.012],[386,-.005],[389,.005],[392,.015],[395,.02],[398,.025],[401,.018],[404,.03],[407,.02],[410,.025],[413,.012],[416,.018],[419,.008],[422,.015],[425,.005],[428,.012],[431,.008],[434,.02],[437,.015],[440,.025],[443,.015],[446,.018],[449,.005],[452,.01],[455,0],[458,.008],[461,-.002],[464,.004],[467,-.005],[470,.002],[473,.008],[476,.003],[480,.012],[483,.005],[486,.01],[490,.002],[493,.006],[496,0],[500,.004]];

// (t)
const tA = [[110,0],[113,.003],[117,.007],[121,.01],[125,.008],[129,.007],[132,.005],[136,.01],[140,.007],[143,.002],[147,-.003],[151,-.01],[154,-.015],[157,-.02],[160,-.02],[164,-.007],[167,.003],[171,.01],[175,.003],[179,.012],[182,.007],[186,.014],[190,.007],[193,.01],[197,.004],[201,.01],[204,.007],[208,.01],[212,0],[215,.007],[219,.004],[223,.012],[226,.005],[230,.008],[234,.003],[238,.015],[241,-.001],[245,-.01],[249,-.014],[253,-.008],[256,-.016],[260,-.006],[264,-.015],[267,-.002],[271,.003],[275,-.005],[279,.013],[282,-.004],[286,0],[290,.007],[293,0],[297,.005],[301,.001],[305,.007],[308,.004],[312,.009],[316,.003],[320,.012],[323,-.002],[327,.015],[330,-.006],[334,-.01],[338,-.017],[342,-.01],[345,-.004],[349,-.013],[353,-.005],[357,-.022],[360,-.008],[364,-.001],[368,.005],[371,-.012],[375,-.016],[379,-.022],[383,-.004],[386,.006],[390,-.012],[394,.001],[397,-.004],[401,.008],[405,-.001],[409,.011],[412,.004],[416,.001],[420,.004],[423,.008],[427,.01],[431,.014],[435,0],[438,.01],[442,.017],[446,.016],[449,.014],[453,.012],[457,.017],[460,.013],[464,.015],[468,.022],[470,.012],[472,.016]];
const tB = [[110,.004],[114,.001],[118,.005],[122,.003],[126,.008],[130,.004],[134,.006],[138,0],[142,-.005],[146,-.008],[150,-.012],[154,-.008],[158,-.016],[162,-.01],[166,-.002],[170,.004],[174,.008],[178,.002],[182,.01],[186,.004],[190,.009],[194,.002],[198,.008],[202,.003],[206,.012],[210,.004],[214,0],[218,.008],[222,.002],[226,.006],[230,0],[234,.008],[238,.004],[242,-.004],[246,-.012],[250,-.006],[254,-.012],[258,-.004],[262,-.01],[266,.002],[270,-.004],[274,.006],[278,0],[282,.008],[286,-.002],[290,.004],[294,-.002],[298,.006],[302,.002],[306,.004],[310,-.002],[314,.006],[318,0],[322,.008],[326,-.002],[330,-.012],[334,-.006],[338,-.012],[342,-.004],[346,-.01],[350,-.002],[354,-.015],[358,-.006],[362,-.012],[366,0],[370,-.008],[374,-.02],[378,-.01],[382,-.015],[386,-.004],[390,-.018],[394,-.006],[398,.002],[402,-.004],[406,.006],[410,0],[414,.008],[418,.002],[422,.005],[426,.008],[430,.003],[434,.006],[437,.012],[440,.025],[443,.034],[447,.032],[451,.029],[455,.027],[459,.024],[462,.022],[464,.015],[466,.02],[469,.028]];

const seriesGrid = [
  [[aA, aB], [bA, bB], [cA, cB], [dA, dB]],
  [[eA, eB], [fA, fB], [gA, gB], [hA, hB]],
  [[mA, mB], [nA, nB], [oA, oB], [pA, pB]],
  [[qA, qB], [rA, rB], [sA, sB], [tA, tB]]
];

// layout
const colLeft = [205, 676, 1147, 1616], colRight = [655, 1124, 1594, 2065];
const rowTop = [9, 227, 455, 671], rowBottom = [227, 447, 671, 887];
const rowDomain = [[-1.69, 1.66], [-0.5, 0.696], [-0.049, 0.107], [-0.029, 0.080]];
const titleX = [[45], [42, 78], [36], [32, 71]];
const titleY = [114, 320, 566, 777];
const letterDy = [52, 52, 41, 42];

const svg = d3.select("#chart");
const defs = svg.append("defs");
// hides the lower half of the row-2 bottom tick label, as in the source figure
defs.append("clipPath").attr("id", "clip-cut").append("rect")
  .attr("x", -400).attr("y", 0).attr("width", 2500).attr("height", 452);

const xs = colLeft.map((l, i) => d3.scaleLinear().domain([0, 500]).range([l, colRight[i]]));
const ys = rowTop.map((t, i) => d3.scaleLinear().domain(rowDomain[i]).range([rowBottom[i], t]));

for (let r = 0; r < 4; r++) {
  for (let c = 0; c < 4; c++) {
    const id = `clip-${r}-${c}`;
    defs.append("clipPath").attr("id", id).append("rect")
      .attr("x", colLeft[c]).attr("y", rowTop[r])
      .attr("width", colRight[c] - colLeft[c]).attr("height", rowBottom[r] - rowTop[r]);

    const line = d3.line().x(d => xs[c](d[0])).y(d => ys[r](d[1]));
    svg.append("g").attr("clip-path", `url(#${id})`)
      .selectAll("path").data(seriesGrid[r][c]).join("path")
      .attr("d", line)
      .attr("fill", "none")
      .attr("stroke", r < 2 ? "#b11e26" : "#0d0d0d")
      .attr("stroke-width", r < 2 ? 2.3 : 2.2)
      .attr("stroke-linejoin", "round");

    svg.append("rect")
      .attr("x", colLeft[c]).attr("y", rowTop[r])
      .attr("width", colRight[c] - colLeft[c]).attr("height", rowBottom[r] - rowTop[r])
      .attr("fill", "none").attr("stroke", "#3a3a3a").attr("stroke-width", r === 1 ? 1.6 : 2.2);

    const yAxis = d3.axisLeft(ys[r]).tickValues(yTicks[r]).tickSize(8).tickPadding(12)
      .tickFormat((d, i) => c === 0 ? yTickLabels[r][i] : "");
    const ag = svg.append("g").attr("transform", `translate(${colLeft[c]},0)`).call(yAxis);
    if (r === 1) ag.attr("clip-path", "url(#clip-cut)");
    ag.select(".domain").remove();
    ag.selectAll("line").attr("stroke", "#555").attr("stroke-width", 1.4);
    ag.selectAll("text").attr("fill", "#3a3a3a")
      .style("font-family", "'Open Sans', sans-serif").style("font-size", "27px");

    if (r === 3) {
      const xAxis = d3.axisBottom(xs[c]).tickValues([0, 100, 200, 300, 400, 500]).tickSize(6).tickPadding(8)
        .tickFormat((d, i) => (c < 3 && i === 5) ? "" : years[i]);
      const xg = svg.append("g").attr("transform", `translate(0,${rowBottom[r]})`).call(xAxis);
      xg.select(".domain").remove();
      xg.selectAll("line").attr("stroke", "#555").attr("stroke-width", 1.4);
      xg.selectAll("text").attr("fill", "#3a3a3a")
        .style("font-family", "'Open Sans', sans-serif").style("font-size", "27px");
    }

    svg.append("text")
      .attr("x", colLeft[c] + 2).attr("y", rowTop[r] + letterDy[r])
      .attr("fill", "#222")
      .style("font-family", "'DejaVu Sans', sans-serif").style("font-size", "32px")
      .text(letters[r][c]);
  }
}

// event lines
colLeft.forEach((l, c) => {
  const x = xs[c](eventTimes[c]);
  svg.append("line")
    .attr("x1", x).attr("x2", x).attr("y1", 0).attr("y2", rowBottom[3])
    .attr("stroke", "#e8161d").attr("stroke-width", 4.8)
    .attr("stroke-dasharray", "21,9").attr("opacity", 0.92);
});

// row titles
rowTitles.forEach((lines, r) => {
  lines.forEach((txt, k) => {
    svg.append("text")
      .attr("transform", `translate(${titleX[r][k]},${titleY[r]}) rotate(-90)`)
      .attr("text-anchor", "middle").attr("dominant-baseline", "central")
      .attr("fill", "#111")
      .style("font-family", "'DejaVu Sans', sans-serif").style("font-weight", "bold").style("font-size", "30px")
      .text(txt);
  });
});

svg.append("text")
  .attr("x", 1118).attr("y", 971).attr("text-anchor", "middle")
  .attr("fill", "#111")
  .style("font-family", "'DejaVu Sans', sans-serif").style("font-weight", "bold").style("font-size", "30px")
  .text("Time");

svg.append("line").attr("x1", 147).attr("x2", 147).attr("y1", 872).attr("y2", 985)
  .attr("stroke", "#e2e2e2").attr("stroke-width", 1.2);

svg.append("text")
  .attr("x", 1843).attr("y", 997)
  .attr("fill", "#2b6fc2")
  .style("font-family", "'Open Sans', sans-serif").style("font-style", "italic").style("font-size", "30px")
  .text("Daiino et al. 2022");
</script>
</body>
</html>
